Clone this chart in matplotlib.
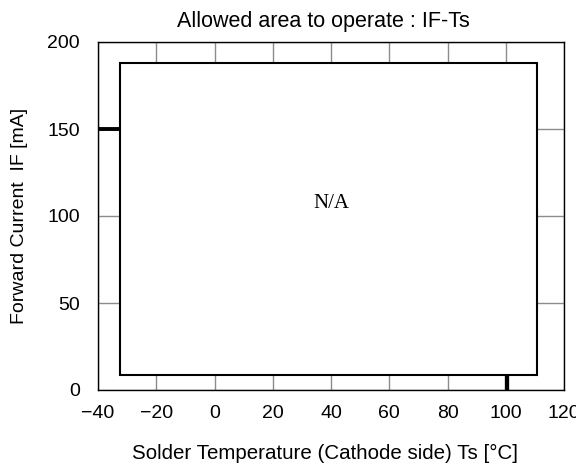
import matplotlib
matplotlib.use("Agg")
import matplotlib.pyplot as plt
from matplotlib.patches import Rectangle

plt.rcParams['font.family'] = ['Liberation Sans', 'DejaVu Sans']

# Data
x_ticks = [-40, -20, 0, 20, 40, 60, 80, 100, 120]
y_ticks = [0, 50, 100, 150, 200]
box_x = [-32.5, 110.8]   # N/A box x-range
box_y = [8.5, 187.8]     # N/A box y-range
h_seg_x = [-40, -32.5]
h_seg_y = [150, 150]
v_seg_x = [100.5, 100.5]
v_seg_y = [0, 8.5]
na_pos = (40, 107)

fig = plt.figure(figsize=(5.76, 4.68), dpi=100)
ax = fig.add_axes([98/576, 1-390/468, (564-98)/576, (390-42)/468])
ax.set_xlim(-40, 120)
ax.set_ylim(0, 200)
ax.set_xticks(x_ticks)
ax.set_yticks(y_ticks)
ax.set_xticklabels([str(v).replace('-', '\u2212') for v in x_ticks])
ax.grid(True, color='#8c8c8c', linewidth=1.0)
ax.set_axisbelow(True)
ax.tick_params(length=0, labelsize=14)
ax.tick_params(axis='x', pad=11)
ax.tick_params(axis='y', pad=13)
for s in ax.spines.values():
    s.set_linewidth(1.0)
    s.set_color('black')

ax.add_patch(Rectangle((box_x[0], box_y[0]), box_x[1]-box_x[0], box_y[1]-box_y[0],
                       facecolor='white', edgecolor='black', linewidth=1.5, zorder=3))
ax.plot(h_seg_x, h_seg_y, color='black', linewidth=2.8, zorder=4, solid_capstyle='butt', clip_on=False)
ax.plot(v_seg_x, v_seg_y, color='black', linewidth=3.1, zorder=4, solid_capstyle='butt', clip_on=False)
ax.text(na_pos[0], na_pos[1], 'N/A', family='Liberation Serif', fontsize=15,
        ha='center', va='center', zorder=5)

ax.set_title('Allowed area to operate : IF-Ts', fontsize=15.5, pad=10.8, x=(323-98)/466)
ax.set_xlabel('Solder Temperature (Cathode side) Ts [\u00b0C]', fontsize=14.8, va='top')
ax.set_ylabel('Forward Current  IF [mA]', fontsize=14, va='bottom')
ax.xaxis.set_label_coords((325-98)/466, -(444-390)/348)
ax.yaxis.set_label_coords((28-98)/466, 0.5)

fig.savefig('out.png', dpi=100)
